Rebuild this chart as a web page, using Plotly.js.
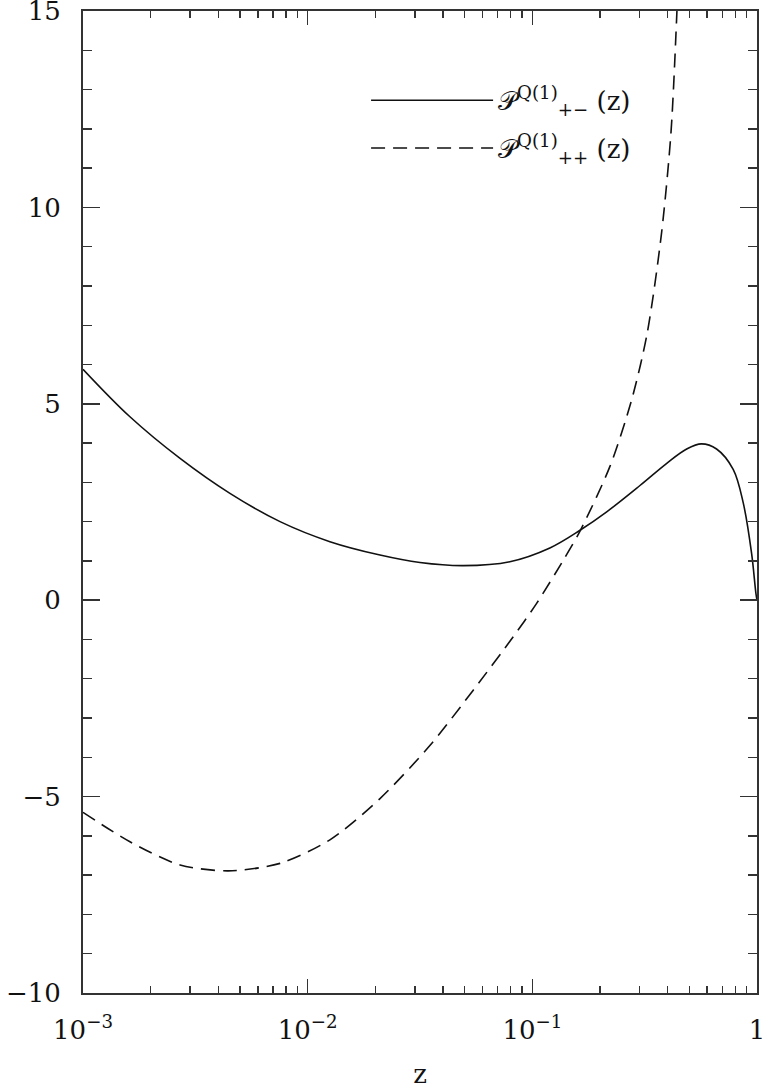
<!DOCTYPE html>
<html>
<head>
<meta charset="utf-8">
<script src="https://cdn.plot.ly/plotly-3.0.1.min.js"></script>
<style>html,body{margin:0;padding:0;background:#fff;}#chart{width:762px;height:1089px;}</style>
</head>
<body>
<div id="chart"></div>
<script>
// Solid curve: P_{+-}^{Q(1)}(z)
const zPM = [0.001, 0.001618, 0.002704, 0.004508, 0.007534, 0.01256, 0.02099, 0.0316, 0.0493, 0.0794, 0.1197, 0.163, 0.2143, 0.3013, 0.3954, 0.4864, 0.5662, 0.6607, 0.7834, 0.869, 0.9462, 0.9886, 1.0];
const yPM = [5.88, 4.67, 3.61, 2.72, 2.00, 1.49, 1.15, 0.96, 0.88, 0.98, 1.33, 1.78, 2.25, 2.92, 3.48, 3.85, 3.98, 3.85, 3.33, 2.47, 1.19, 0.18, 0.0];
// Dashed curve: P_{++}^{Q(1)}(z)
const zPP = [0.001, 0.001618, 0.002704, 0.004436, 0.007534, 0.01256, 0.02099, 0.03499, 0.05458, 0.08222, 0.1045, 0.1374, 0.163, 0.2213, 0.2767, 0.3243, 0.3758, 0.414, 0.4385, 0.4467];
const yPP = [-5.40, -6.15, -6.74, -6.89, -6.70, -6.10, -5.05, -3.70, -2.29, -0.93, -0.08, 1.02, 1.76, 3.40, 5.10, 6.79, 9.34, 11.89, 14.77, 16.0];
// Tick labels
const xTickVals = [0.001, 0.01, 0.1, 1];
const xTickText = ['10<sup>\u22123</sup>', '10<sup>\u22122</sup>', '10<sup>\u22121</sup>', '1'];
const names = ['\uD835\uDCAB<sup>Q(1)</sup><sub>+\u2212</sub> (z)', '\uD835\uDCAB<sup>Q(1)</sup><sub>++</sub> (z)'];

const FONT = 'DejaVu Serif, serif';
const traces = [
  {x: zPM, y: yPM, name: names[0], legendgroup: 'a', type: 'scatter', mode: 'lines', line: {color: '#111', width: 1.6, shape: 'spline', smoothing: 1}},
  {x: zPP, y: yPP, name: names[1], legendgroup: 'b', type: 'scatter', mode: 'lines', line: {color: '#111', width: 1.6, dash: '14px,8px', shape: 'spline', smoothing: 0.8}}
];
const axisLine = {showline: true, linecolor: '#333', linewidth: 2, mirror: 'ticks', showgrid: false, zeroline: false, ticks: 'inside', tickcolor: '#333', tickwidth: 1.6, ticklabeloverflow: 'allow'};
const layout = {
  width: 762, height: 1089,
  margin: {l: 83, r: 5, t: 11, b: 96},
  paper_bgcolor: '#fff', plot_bgcolor: '#fff',
  font: {family: FONT, size: 26, color: '#111'},
  showlegend: true,
  legend: {x: 0.42, y: 0.933, xanchor: 'left', yanchor: 'top', bgcolor: 'rgba(0,0,0,0)', itemwidth: 122, font: {family: FONT, size: 26, color: '#111'}, tracegroupgap: 11},
  xaxis: Object.assign({}, axisLine, {
    type: 'log', range: [-3, 0],
    tickmode: 'array', tickvals: xTickVals, ticktext: xTickText,
    ticklen: 14, ticklabelstandoff: 13,
    minor: {dtick: 'D1', ticks: 'inside', ticklen: 7, tickcolor: '#333', tickwidth: 1.4},
    title: {text: 'z', font: {family: FONT, size: 26}, standoff: 34}
  }),
  yaxis: Object.assign({}, axisLine, {
    range: [-10, 15], dtick: 5, tick0: 0,
    ticklen: 17, ticklabelstandoff: 15,
    minor: {dtick: 1, ticks: 'inside', ticklen: 9, tickcolor: '#333', tickwidth: 1.4}
  })
};
Plotly.newPlot('chart', traces, layout, {displayModeBar: false, staticPlot: true});
</script>
</body>
</html>
